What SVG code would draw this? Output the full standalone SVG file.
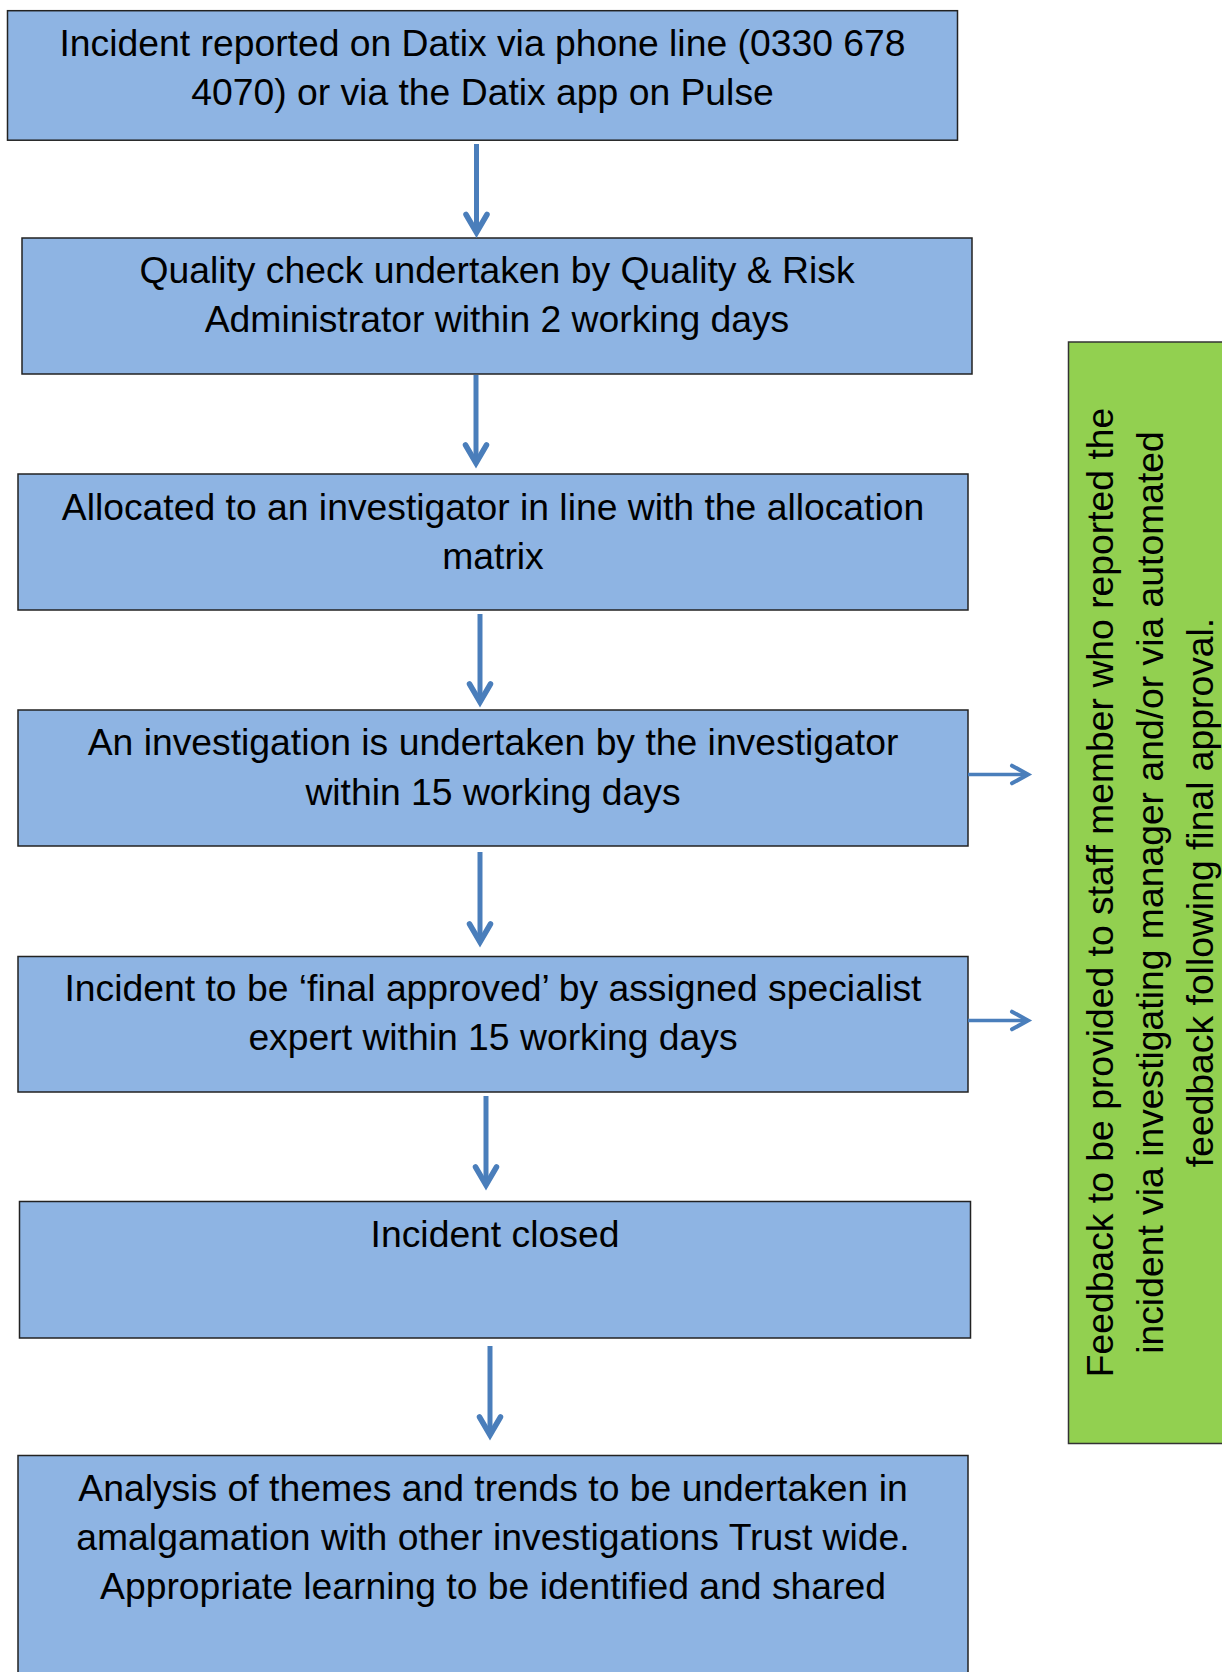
<svg xmlns="http://www.w3.org/2000/svg" width="1222" height="1672" viewBox="0 0 1222 1672">
<style>
.box{fill:#8EB4E3;stroke:#222;stroke-width:1.5}
.green{fill:#92D050;stroke:#333;stroke-width:1.5}
.t{font-family:"Liberation Sans",Arial,sans-serif;font-size:37.3px;fill:#000;text-anchor:middle}
.down{stroke:#4A7EBB;stroke-width:5;fill:none}
.side{stroke:#4A7EBB;stroke-width:3.5;fill:none}
</style>
<defs>
<marker id="hd" markerUnits="userSpaceOnUse" markerWidth="40" markerHeight="40" viewBox="-30 -20 40 40" refX="0" refY="0" orient="auto" overflow="visible">
<path d="M-17,-10.5 L1,0 L-17,10.5" fill="none" stroke="#4A7EBB" stroke-width="5.5" stroke-linecap="round" stroke-linejoin="miter" stroke-miterlimit="10"/>
</marker>
<marker id="hs" markerUnits="userSpaceOnUse" markerWidth="40" markerHeight="40" viewBox="-30 -20 40 40" refX="0" refY="0" orient="auto" overflow="visible">
<path d="M-12,-8.8 L4,0 L-12,8.8" fill="none" stroke="#4A7EBB" stroke-width="4" stroke-linecap="round" stroke-linejoin="miter" stroke-miterlimit="10"/>
</marker>
</defs>

<g id="n1">
<rect class="box" x="7.5" y="10.7" width="950" height="129.5"/>
<text class="t" x="482.5" y="55.5">Incident reported on Datix via phone line (0330 678</text>
<text class="t" x="482.5" y="104.5">4070) or via the Datix app on Pulse</text>
</g>
<g id="n2">
<rect class="box" x="22" y="238" width="950" height="136"/>
<text class="t" x="497" y="282.5">Quality check undertaken by Quality &amp; Risk</text>
<text class="t" x="497" y="331.5">Administrator within 2 working days</text>
</g>
<g id="n3">
<rect class="box" x="18" y="474" width="950" height="136"/>
<text class="t" x="493" y="519.5">Allocated to an investigator in line with the allocation</text>
<text class="t" x="493" y="568.5">matrix</text>
</g>
<g id="n4">
<rect class="box" x="18" y="710" width="950" height="136"/>
<text class="t" x="493" y="755">An investigation is undertaken by the investigator</text>
<text class="t" x="493" y="804.5">within 15 working days</text>
</g>
<g id="n5">
<rect class="box" x="18" y="956.5" width="950" height="135.5"/>
<text class="t" x="493" y="1000.5">Incident to be ‘final approved’ by assigned specialist</text>
<text class="t" x="493" y="1050">expert within 15 working days</text>
</g>
<g id="n6">
<rect class="box" x="19.5" y="1201.5" width="951" height="136.5"/>
<text class="t" x="495" y="1247">Incident closed</text>
</g>
<g id="n7">
<rect class="box" x="18" y="1455.5" width="950" height="230"/>
<text class="t" x="493" y="1501">Analysis of themes and trends to be undertaken in</text>
<text class="t" x="493" y="1550">amalgamation with other investigations Trust wide.</text>
<text class="t" x="493" y="1599">Appropriate learning to be identified and shared</text>
</g>
<g id="feedback">
<rect class="green" x="1068.5" y="342" width="160" height="1101.5"/>
<g transform="translate(1113,892.5) rotate(-90)">
<text class="t" x="0" y="0">Feedback to be provided to staff member who reported the</text>
<text class="t" x="0" y="50">incident via investigating manager and/or via automated</text>
<text class="t" x="0" y="100">feedback following final approval.</text>
</g>
</g>

<g id="connectors">
<line class="down" x1="476.5" y1="144" x2="476.5" y2="231.5" marker-end="url(#hd)"/>
<line class="down" x1="476" y1="375" x2="476" y2="462" marker-end="url(#hd)"/>
<line class="down" x1="480" y1="614" x2="480" y2="701" marker-end="url(#hd)"/>
<line class="down" x1="480" y1="852" x2="480" y2="941" marker-end="url(#hd)"/>
<line class="down" x1="486" y1="1096" x2="486" y2="1184" marker-end="url(#hd)"/>
<line class="down" x1="490" y1="1346" x2="490" y2="1434" marker-end="url(#hd)"/>
<line class="side" x1="968" y1="774.5" x2="1024" y2="774.5" marker-end="url(#hs)"/>
<line class="side" x1="968" y1="1020.5" x2="1024" y2="1020.5" marker-end="url(#hs)"/>
</g>
</svg>
